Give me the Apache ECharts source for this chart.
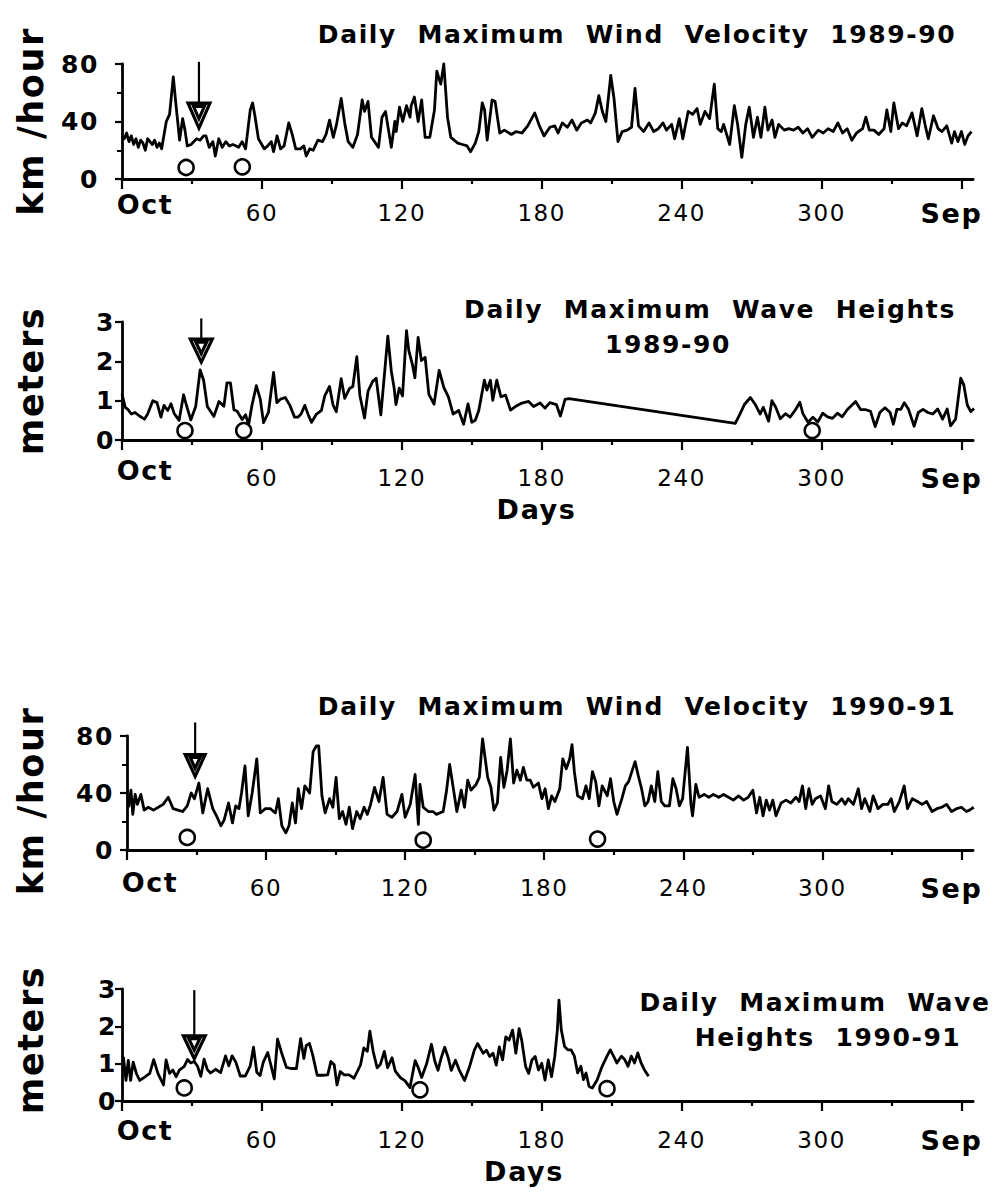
<!DOCTYPE html>
<html><head><meta charset="utf-8">
<script src="https://cdn.jsdelivr.net/npm/echarts@6/dist/echarts.min.js"></script>
<style>
html,body{margin:0;padding:0;background:#fff;}
#chart{width:1003px;height:1194px;}
#chart text{letter-spacing:1.6px;white-space:pre;}
</style></head><body><div id="chart"></div>
<script>
// ---------- data (day of year from 1 Oct, value) ----------
const wind8990 = [[0,30],[1,28],[2,32],[3,26],[4,30],[5,24],[6,28],[7,22],[8,27],[9,25],[10,20],[11,28],[12,26],[13,24],[14,27],[15,22],[16,25],[17,21],[19,40],[20.4,45],[22,71],[23,54],[24.7,27],[26,42],[27,34],[28,23],[29.6,24],[32,28],[33.5,27],[35,30],[36,30],[37.4,22],[39,26],[40,16],[41.5,28],[43,22],[44.5,26],[46,23],[47.5,24],[49,23],[50,22],[51.5,26],[53,21],[55,48],[56,53],[57,44],[58.5,28],[61,21],[62.5,23],[64,26],[65,19],[66.5,30],[68,21],[69.5,23],[71.5,39],[73,31],[74.5,21],[76.5,21],[78,23],[79,16],[80.5,21],[82,20],[84,27],[86,26],[87.5,31],[89,41],[90.6,29],[92,38],[94,56],[95.6,38],[97,26],[99,22],[101,31],[103,55],[104,47],[105.5,54],[107,29],[110,22],[111.5,43],[113,47],[115.5,22],[117,40],[117.6,33],[119,50],[120.4,40],[122,51],[123.5,43],[124,51],[125.4,57],[127,40],[128.5,55],[130,29],[132,29],[134,48],[135,75],[136.7,66],[138,80],[139.6,43],[141,29],[144,25],[146,24],[148,23],[149.5,19],[151.5,25],[153,33],[154.5,53],[155.5,48],[156.6,27],[158.7,55],[160,54],[162,32],[164,34],[167,31],[169,33],[171.5,32],[174,37],[177,46],[179,37],[181,30],[183.5,36],[185.6,37],[187,32],[188.8,39],[191,36],[193,41],[195,34],[197,39],[199.6,41],[201,39],[203,46],[204.5,58],[206,47],[207.5,40],[209.6,72],[211,56],[212.7,26],[214.5,33],[216.6,34],[218.5,36],[220,63],[221.5,37],[223.7,33],[226,39],[228,33],[230,35],[232,39],[233.5,34],[235.7,38],[237,28],[239,42],[240.5,28],[242.8,47],[244.7,45],[246.6,49],[248,38],[250,47],[252,42],[254,66],[255.5,35],[257,33],[258,38],[260.6,24],[262.6,51],[264,38],[265.8,15],[267.5,38],[269,50],[270.8,29],[272.5,43],[274,29],[275.7,50],[277,34],[278.8,41],[280,29],[281.6,38],[284,34],[285.9,35],[288,34],[290,36],[292,32],[294,35],[296,29],[298.6,34],[300.7,32],[302.8,35],[305,33],[307,39],[309,32],[311,35],[313,27],[315,32],[317.6,35],[319,43],[320.5,34],[322.5,34],[324.5,31],[326.8,35],[328,48],[329.7,33],[331,53],[333,35],[334.6,39],[336.5,37],[338.8,46],[341,30],[343,49],[344.5,37],[345.8,28],[348,44],[350,35],[351.6,33],[353.7,37],[355.8,25],[357,33],[358.5,26],[360,33],[361.4,24],[362.8,30],[364.3,33]];

const wave8990 = [[0,1.17],[1.4,0.83],[2.5,0.78],[4,0.66],[5.5,0.7],[7.5,0.61],[9.6,0.53],[11,0.66],[13.2,1.0],[15,0.95],[16.7,0.58],[18,0.88],[19.6,0.75],[21,0.92],[22.4,0.67],[24.5,0.5],[26.4,1.15],[27.8,0.85],[29.5,0.51],[31.6,0.85],[33.5,1.78],[35,1.52],[36.6,0.85],[39.4,0.6],[41.6,0.98],[43.7,0.86],[45,1.45],[46.5,1.45],[48,0.77],[49.4,0.73],[51.5,0.52],[53,0.64],[54.3,0.39],[55.7,0.87],[57.6,1.38],[59.3,1.04],[60.7,0.44],[62.8,0.7],[65,1.72],[66.4,0.95],[68,1.04],[70,1.08],[72,0.88],[74,0.58],[75.4,0.58],[76.8,0.66],[78.4,0.88],[80,0.62],[81.3,0.45],[83.4,0.66],[85.5,0.75],[87,1.13],[89,1.36],[90.5,0.89],[91.9,0.72],[94,1.56],[95.5,1.06],[97.6,1.31],[99,1.36],[100.7,2.12],[102,1.14],[104,0.56],[105.5,1.24],[107.5,1.49],[109,1.57],[111,0.64],[114,2.64],[115.5,1.75],[116.7,1.32],[117.5,0.9],[118.9,1.32],[120.3,1.12],[122,2.78],[123,2.27],[124.5,1.93],[125.6,1.58],[127,2.61],[128.4,2.02],[130,2.1],[131.6,1.16],[133.8,0.91],[136,1.77],[138,1.34],[140,1.09],[142,0.66],[144.4,0.75],[146.5,0.4],[148.4,0.92],[150,0.45],[151.5,0.5],[153,0.75],[155.4,1.52],[156.5,1.27],[158,1.52],[159,1.01],[160.7,1.52],[162.5,1.1],[164.5,1.14],[166.6,0.76],[168.7,0.85],[171.5,0.94],[174.4,0.98],[176.5,0.85],[179.3,0.94],[181.4,0.81],[183.5,0.95],[186.3,0.9],[188,0.61],[190,1.03],[191.7,1.05],[263,0.42],[265,0.66],[267,0.91],[269.5,1.08],[271.5,0.91],[273.7,0.66],[275,0.83],[277.3,0.48],[278.7,1.0],[280.3,0.84],[282.3,0.54],[284.5,0.67],[286.5,0.58],[288.6,0.75],[290.7,0.96],[292,0.67],[294.2,0.45],[296.3,0.58],[298.4,0.46],[300.5,0.68],[302.6,0.59],[304.7,0.55],[306.8,0.68],[308.9,0.59],[311,0.77],[314.6,0.98],[316.8,0.77],[319,0.77],[321,0.73],[323,0.34],[325,0.7],[327.2,0.82],[329.4,0.7],[330.8,0.4],[332.3,0.78],[334,0.78],[335.5,0.95],[337.3,0.78],[339.7,0.35],[341.5,0.7],[343.5,0.78],[345.6,0.7],[347.7,0.66],[349.8,0.79],[351.9,0.53],[353.9,0.79],[355.3,0.36],[357.5,0.53],[359.7,1.57],[361,1.4],[362.5,0.89],[364,0.72],[365.4,0.8]];

const wind9091 = [[0.7,30],[1.7,42],[2.5,25],[3.5,39],[4.5,32],[6,39],[7.4,28],[9.2,30],[11.4,28],[13.5,30],[15.6,32],[17.8,37],[19.9,29],[22,28],[24,27],[26,31],[27.7,40],[29.1,36],[31,47],[32.7,26],[34.8,43],[37,29],[38.6,24],[40.5,17],[41.9,21],[43.8,33],[45.5,19],[46.9,31],[48.3,29],[49.4,40],[50.9,59],[52.3,24],[54,40],[56,64],[57.5,26],[59.7,29],[61.8,29],[64,26],[65.3,36],[66.8,17],[68.5,12],[69.9,17],[71.3,33],[72.7,19],[73.9,43],[75.3,29],[76.7,45],[78.8,40],[80.3,69],[81.7,73],[82.7,73],[84.1,38],[85.5,26],[87.4,36],[88.8,30],[90.2,51],[91.6,22],[93,27],[94.5,18],[95.9,30],[97.3,15],[99.1,27],[100.6,22],[102.3,30],[103.7,25],[105.1,32],[106.8,44],[108.7,34],[110.5,51],[112.2,25],[114.3,23],[116.5,27],[118.6,39],[120,23],[122.2,32],[124.3,53],[125.7,18],[126.4,46],[127.8,30],[130,27],[132,27],[133.5,25],[136.4,27],[137.8,41],[139.2,60],[140.9,42],[142.3,27],[144.2,42],[145.6,30],[147,49],[148.4,42],[150.6,46],[152,51],[153.4,78],[155.6,51],[157,44],[158.3,28],[159.8,33],[161.2,65],[162.6,44],[164,56],[165.4,78],[166.8,47],[168.2,56],[169.7,49],[171,58],[172.5,49],[174,49],[175.3,44],[177.5,47],[179,36],[180.4,43],[181.8,29],[183.2,38],[184.6,34],[186.7,43],[188,64],[189.5,57],[191,64],[192,74],[193,55],[194.4,38],[196.5,36],[198,45],[199.4,36],[200.8,55],[202.2,48],[203.6,31],[205,45],[207.2,38],[208.6,50],[210,34],[211.4,25],[213.5,36],[215,45],[216.4,48],[217.8,55],[219.2,62],[220.6,52],[222,43],[223.4,31],[224.8,34],[226.2,45],[227.7,34],[229,55],[230.5,34],[232,31],[234,31],[235.5,50],[236.9,43],[238.3,31],[239.7,36],[241.8,72],[243.3,32],[244,24],[245.4,46],[246.8,37],[249,39],[251,37],[253,39],[255.3,37],[257.4,39],[259.5,37],[261.6,35],[263.8,38],[266,35],[268,37],[270,42],[271.6,26],[273,37],[274.4,24],[275.8,35],[277.2,28],[278.6,35],[280,24],[282.2,33],[284.3,35],[286.4,33],[288.6,37],[290,34],[291.4,45],[292.8,29],[294.2,43],[295.6,32],[297,36],[299.2,38],[301.3,29],[302.7,45],[304.1,34],[306.2,32],[308.4,36],[309.8,32],[311.2,36],[313.4,32],[315.5,43],[316.9,29],[318.3,36],[320.5,27],[321.9,38],[324,29],[326.1,32],[328.2,32],[329.7,36],[331,27],[333.2,34],[335.3,45],[336.7,29],[338.8,36],[341,34],[343,32],[345,34],[347.3,27],[349.4,29],[351.5,30],[353.6,32],[355.7,27],[357.9,29],[360,30],[362.1,27],[363.5,28],[365.3,30]];

const wave9091 = [[0.6,1.18],[1.7,0.55],[2.7,1.09],[3.7,0.55],[4.8,1.04],[6.2,0.73],[7.6,0.55],[9.7,0.64],[11.9,0.74],[13.6,1.11],[15.4,0.74],[16.8,0.56],[17.8,0.43],[18.9,1.1],[20.4,0.74],[21.8,0.83],[23.2,0.65],[24.6,0.83],[26.7,0.93],[28.1,1.11],[29.5,1.02],[31,1.06],[32.4,0.93],[33.8,0.66],[35.2,1.12],[36.6,0.84],[38,0.75],[40.1,0.85],[42.3,0.76],[44.4,1.21],[45.8,0.94],[47.2,1.21],[48.9,1.03],[50.7,0.67],[52.9,0.67],[55,0.94],[56.4,1.44],[57.8,0.77],[59.2,0.68],[60.6,1.04],[62.5,1.3],[63.9,0.95],[65.3,0.59],[66.7,1.66],[68.4,1.3],[70.5,0.9],[72.7,0.87],[74.8,0.87],[76.6,1.67],[78,1.14],[79,1.49],[80.4,1.54],[81.8,1.23],[83.7,0.69],[86,0.69],[88.2,0.7],[89.6,1.06],[91,0.97],[92.2,0.43],[93.6,0.79],[95.3,0.7],[97.4,0.7],[99.5,0.61],[100.9,0.79],[102.3,0.97],[103.7,1.42],[105.2,1.33],[106.3,1.87],[107.7,1.33],[109.4,0.89],[110.8,0.98],[112.5,1.33],[113.9,0.89],[115.8,1.16],[117.2,0.8],[119.3,0.63],[121.4,0.54],[123.5,0.36],[125.7,1.08],[127,0.9],[128.5,0.63],[130.6,0.99],[132.7,1.52],[134.1,1.08],[135.5,0.82],[137,1.18],[138.4,1.44],[139.8,1.18],[141.2,0.82],[143,1.09],[144.7,0.82],[146.9,0.55],[149,0.91],[151.1,1.36],[152.5,1.54],[154.9,1.28],[156.3,1.36],[157.7,1.19],[159.1,1.28],[160.5,0.96],[161.8,1.45],[163.2,1.1],[164.6,1.72],[166,1.63],[167.5,1.9],[168.9,1.28],[170.3,1.94],[171.4,1.63],[173.1,0.92],[174.4,0.74],[175.8,1.1],[177.2,1.19],[178.6,0.83],[180,1.01],[181.4,0.56],[182.8,1.1],[184.2,0.65],[185.6,1.2],[186.7,1.9],[187.4,2.7],[188.4,1.9],[189.8,1.46],[191.2,1.37],[192.6,1.37],[194,1.2],[195.4,0.75],[196.8,0.93],[197.9,0.57],[199,0.75],[200.3,0.39],[201.7,0.35],[203.8,0.57],[205.9,0.93],[208,1.2],[209.4,1.37],[210.8,1.2],[212.2,1.02],[214.2,1.2],[215.6,1.11],[217,0.93],[218.4,1.2],[219.8,1.02],[221.2,1.29],[222.6,1.02],[224,0.84],[225.8,0.66]];

// open-circle markers [day, value]
const circlesWind8990 = [[27.5,8],[51.6,8.5]];
const circlesWave8990 = [[27,0.24],[52.2,0.24],[296,0.24]];
const circlesWind9091 = [[26,8.8],[127.8,6.9],[203,7.7]];
const circlesWave9091 = [[26.7,0.35],[127.8,0.3],[208,0.33]];

// arrows [day, top value, tip value]
const arrowWind8990 = [33, 81.5, 35.4];
const arrowWave8990 = [34, 3.09, 1.98];
const arrowWind9091 = [29.4, 89.5, 51.5];
const arrowWave9091 = [31, 2.97, 1.13];

// axis ticks / labels
const xTickValues = [0,60,120,180,240,300,360];
const xMinorTickValues = [30,90,150,210,270,330];
const monthLabels = {0:'Oct', 360:'Sep'};
const windYMax = 80, windYInterval = 40;
const waveYMax = 3, waveYInterval = 1;

const titleTexts = [
  'Daily  Maximum  Wind  Velocity  1989-90',
  'Daily  Maximum  Wave  Heights',
  '1989-90',
  'Daily  Maximum  Wind  Velocity  1990-91',
  'Daily  Maximum  Wave',
  'Heights  1990-91'
];
const yNames = ['km /hour','meters','km /hour','meters'];
const xName = 'Days';

// ---------- layout ----------
const FONT = 'DejaVu Sans';
const titlePos = [[637,22],[710,297],[668,332],[637,694],[815,990],[828,1025]];
const panels = [
  {grid:{left:122,top:64,width:861,height:115}, yMax:windYMax, yInt:windYInterval, minor:true, yName:yNames[0], nameGap:74, namePad:[0,0,0,0], yLabM:23, xLabM:23, octLH:4, days:false,
   data:wind8990, circles:circlesWind8990, arrow:arrowWind8990, head:[22,25]},
  {grid:{left:122,top:322,width:864,height:118}, yMax:waveYMax, yInt:waveYInterval, minor:false, yName:yNames[1], nameGap:74, namePad:[0,0,0,0], yLabM:7, xLabM:27, octLH:6, days:true, daysGap:56, daysPad:[0,22,0,0],
   data:wave8990, circles:circlesWave8990, arrow:arrowWave8990, head:[22,23]},
  {grid:{left:127,top:736,width:858,height:114}, yMax:windYMax, yInt:windYInterval, minor:true, yName:yNames[2], nameGap:79, namePad:[0,16,0,0], yLabM:13, xLabM:27, octLH:10, days:false,
   data:wind9091, circles:circlesWind9091, arrow:arrowWind9091, head:[20,22]},
  {grid:{left:122,top:989,width:863,height:112}, yMax:waveYMax, yInt:waveYInterval, minor:false, yName:yNames[3], nameGap:74, namePad:[0,0,0,10], yLabM:5, xLabM:28, octLH:2, days:true, daysGap:57, daysPad:[0,47,0,0],
   data:wave9091, circles:circlesWave9091, arrow:arrowWave9091, head:[22,23]}
];

const grids = [], xAxes = [], yAxes = [], series = [];
panels.forEach((p, i) => {
  grids.push(Object.assign({containLabel:false}, p.grid));
  xAxes.push({
    gridIndex:i, type:'value', min:0, max:365, interval:60, position:'bottom',
    axisLine:{show:true, onZero:false, lineStyle:{color:'#000', width:2.8}},
    axisTick:{show:true, inside:false, length:10, customValues:xTickValues, lineStyle:{color:'#000', width:2.2}},
    splitLine:{show:false},
    axisLabel:{show:true, customValues:xTickValues, margin:p.xLabM, color:'#000', fontFamily:FONT, fontSize:23, lineHeight:22,
      formatter: v => v === 0 ? '{o|' + monthLabels[0] + '}' : (v === 360 ? '{s|' + monthLabels[360] + '}' : String(v)),
      rich:{
        o:{fontFamily:FONT, fontWeight:'bold', fontSize:27, lineHeight:p.octLH, color:'#000', padding:[0,0,0,46]},
        s:{fontFamily:FONT, fontWeight:'bold', fontSize:27, lineHeight:22, color:'#000', padding:[0,20,0,0]}
      }},
    name: p.days ? xName : '', nameLocation:'middle', nameGap:p.daysGap || 0, nameMoveOverlap:false,
    nameTextStyle:{fontFamily:FONT, fontWeight:'bold', fontSize:27, lineHeight:27, color:'#000', padding:p.daysPad || 0}
  });
  xAxes.push({
    gridIndex:i, type:'value', min:0, max:365, interval:60, position:'bottom',
    axisLine:{show:false, onZero:false},
    axisTick:{show:true, inside:false, length:5, customValues:xMinorTickValues, lineStyle:{color:'#000', width:2.2}},
    axisLabel:{show:false}, splitLine:{show:false}
  });
  yAxes.push({
    gridIndex:i, type:'value', min:0, max:p.yMax, interval:p.yInt,
    axisLine:{show:true, onZero:false, lineStyle:{color:'#000', width:2.8}},
    axisTick:{show:true, inside:false, length:7, lineStyle:{color:'#000', width:2.2}},
    minorTick:{show:p.minor, splitNumber:2, length:5, lineStyle:{color:'#000', width:2}},
    splitLine:{show:false}, minorSplitLine:{show:false},
    axisLabel:{margin:p.yLabM, color:'#000', fontFamily:FONT, fontWeight:'bold', fontSize:25},
    name:p.yName, nameLocation:'middle', nameRotate:90, nameGap:p.nameGap, nameMoveOverlap:false,
    nameTextStyle:{fontFamily:FONT, fontWeight:'bold', fontSize:35, lineHeight:35, color:'#000', padding:p.namePad}
  });
  series.push({
    type:'line', xAxisIndex:2*i, yAxisIndex:i, data:p.data, symbol:'none', showSymbol:false,
    lineStyle:{color:'#000', width:2.8, join:'round'}, clip:false, z:3, silent:true
  });
  series.push({
    type:'scatter', xAxisIndex:2*i, yAxisIndex:i, data:p.circles, symbol:'circle', symbolSize:15,
    itemStyle:{color:'#fff', borderColor:'#000', borderWidth:2.6, opacity:1}, clip:false, z:4, silent:true
  });
  const a = p.arrow;
  series.push({
    type:'line', xAxisIndex:2*i, yAxisIndex:i, data:[[a[0],a[1]],[a[0],a[2]]], symbol:'none',
    lineStyle:{color:'#000', width:2.2}, clip:false, z:5, silent:true
  });
  series.push({
    type:'scatter', xAxisIndex:2*i, yAxisIndex:i, data:[[a[0],a[2]]],
    symbol:'path://M0,0L20,0L10,24Z M5,3L15,3L10,15Z', symbolKeepAspect:false, symbolSize:p.head, symbolOffset:[0,'-50%'],
    itemStyle:{color:'#fff', borderColor:'#000', borderWidth:3.2, opacity:1}, clip:false, z:6, silent:true
  });
});

const titles = titleTexts.map((t, k) => ({
  text:t, left:titlePos[k][0], top:titlePos[k][1], textAlign:'center', padding:0,
  textStyle:{fontFamily:FONT, fontWeight:'bold', fontSize:25, lineHeight:25, color:'#000'}
}));

const chart = echarts.init(document.getElementById('chart'), null, {renderer:'svg', width:1003, height:1194});
chart.setOption({
  backgroundColor:'#fff', animation:false,
  title:titles, grid:grids, xAxis:xAxes, yAxis:yAxes, series:series
});
</script></body></html>
